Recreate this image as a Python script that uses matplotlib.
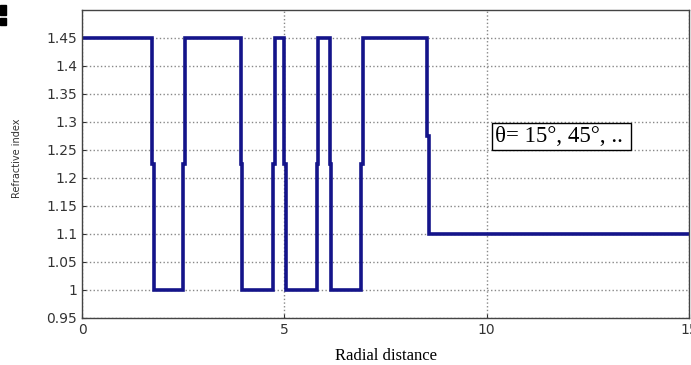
import numpy as np
import matplotlib.pyplot as plt
from matplotlib.patches import Rectangle

# layer boundaries (radial distance) and refractive index of each layer
edges = [0, 1.74, 2.5, 3.92, 4.72, 5.0, 5.8, 6.12, 6.9, 8.53, 15]
index = [1.45, 1.0, 1.45, 1.0, 1.45, 1.0, 1.45, 1.0, 1.45, 1.1]
yticks = [0.95, 1, 1.05, 1.1, 1.15, 1.2, 1.25, 1.3, 1.35, 1.4, 1.45]
ytick_labels = ['0.95', '1', '1.05', '1.1', '1.15', '1.2', '1.25', '1.3', '1.35', '1.4', '1.45']
xticks = [0, 5, 10, 15]

# build profile; each jump passes through the mid value with a small shift
dx = 0.04
xs = [edges[0]]
ys = [index[0]]
for i in range(1, len(index)):
    a, b = index[i - 1], index[i]
    m = (a + b) / 2
    xs += [edges[i], edges[i], edges[i] + dx, edges[i] + dx]
    ys += [a, m, m, b]
xs.append(edges[-1])
ys.append(index[-1])

fig = plt.figure(figsize=(6.91, 3.65), dpi=100)
ax = fig.add_axes([0.1187, 0.1288, 0.8785, 0.8438])

ax.plot(xs, ys, color='#14148a', lw=2.6, solid_joinstyle='miter')

ax.set_xlim(0, 15)
ax.set_ylim(0.95, 1.5)
ax.set_xticks(xticks)
ax.set_yticks(yticks)
ax.set_yticklabels(ytick_labels)
ax.tick_params(direction='in', length=3, labelsize=10, labelcolor='#333333',
               color='#333333')
ax.grid(True, linestyle=':', color='#888888', lw=1.0)
for s in ax.spines.values():
    s.set_color('#444444')
    s.set_linewidth(1.0)

ax.set_xlabel('Radial distance', family='Liberation Serif', fontsize=12, labelpad=8)
ax.set_ylabel('Refractive index', fontsize=7, color='#333333')
ax.yaxis.set_label_coords(-0.099, 0.52)

ax.text(10.2, 1.274, 'θ= 15°, 45°, .. ', family='Liberation Serif', fontsize=16.5,
        va='center', ha='left',
        bbox=dict(boxstyle='square,pad=0.12', fc='white', ec='black', lw=1.0))

# cropped marks at the top left corner
fig.patches.append(Rectangle((0, 1 - 15 / 365), 6 / 691, 10 / 365,
                             transform=fig.transFigure, color='black'))
fig.patches.append(Rectangle((0, 1 - 25 / 365), 6 / 691, 7 / 365,
                             transform=fig.transFigure, color='black'))

fig.savefig('out.png', dpi=100)
